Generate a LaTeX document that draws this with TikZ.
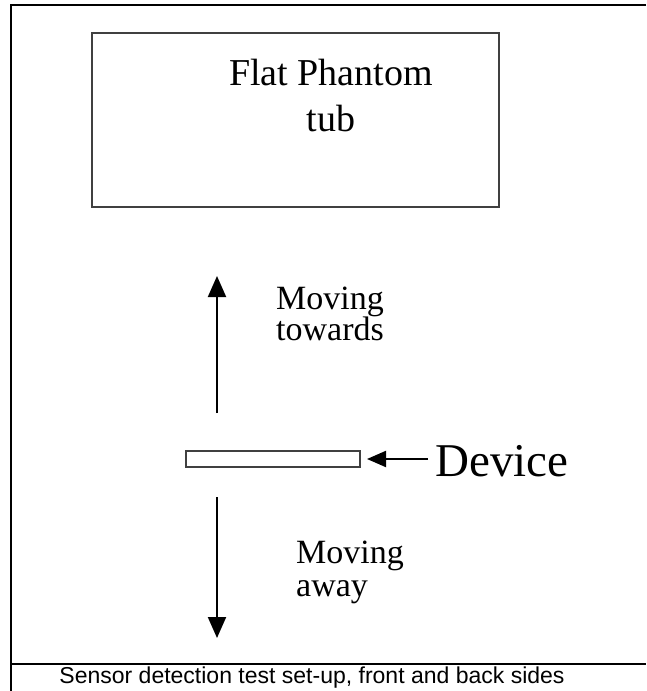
\documentclass[tikz,border=0pt]{standalone}
\usepackage{fontspec}
\setmainfont{Liberation Serif}
\newfontfamily\capfont{Liberation Sans}
\usetikzlibrary{arrows.meta}
\begin{document}
\begin{tikzpicture}[x=1pt,y=-1pt,
  frame/.style={line width=2.6pt},
  boxstyle/.style={draw=black!75, line width=1.7pt, inner sep=0pt},
  arr/.style={line width=2pt, -{Triangle[length=21pt,width=18pt]}},
  lbl/.style={font=\fontsize{34}{34}\selectfont, align=left, inner sep=0pt, anchor=north west}]
\useasboundingbox (0,0) rectangle (646,691);
\draw[frame] (646,5) -- (11,5) -- (11,691);
\draw[frame] (11,664) -- (646,664);
\node[boxstyle, minimum width=407pt, minimum height=174pt] (tub) at (295.5,120) {};
\node[font=\fontsize{38}{46}\selectfont, align=center, inner sep=0pt] (tubtext) at (331,95) {Flat Phantom\\tub};
\node[boxstyle, line width=1.5pt, minimum width=174pt, minimum height=16pt] (dev) at (273,459) {};
\node[font=\fontsize{47}{47}\selectfont, anchor=west, inner sep=0pt] (devtext) at (435,461) {Device};
\draw[line width=2pt, -{Triangle[length=19pt,width=16pt]}] (devtext.west) ++(-7,-2) coordinate (devtail) -- (367,459) coordinate (devtip);
\coordinate (upbot) at (217,413);
\coordinate (uptop) at (217,276);
\draw[arr] (upbot) -- (uptop);
\coordinate (dntop) at (217,497);
\coordinate (dnbot) at (217,638);
\draw[arr] (dntop) -- (dnbot);
\node[lbl] (toward) at (276,287) {Moving\\[-3pt]towards};
\node[lbl] (away) at (296,541) {Moving\\[-1pt]away};
\node[font=\capfont\fontsize{23}{24}\selectfont, inner sep=0pt] (cap) at (312,678) {Sensor detection test set-up, front and back sides};
\end{tikzpicture}
\end{document}
